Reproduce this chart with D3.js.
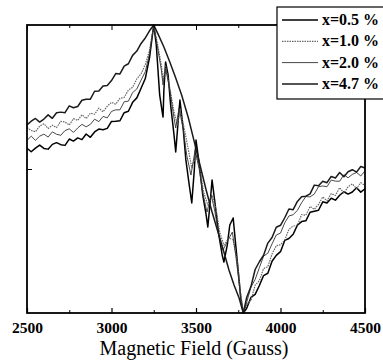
<!DOCTYPE html>
<html><head><meta charset="utf-8">
<script src="https://cdn.jsdelivr.net/npm/d3@7"></script>
<style>body{margin:0;background:#fff}svg{display:block}</style>
</head><body>
<script>
// Magnetic field (Gauss) / EPR signal (arb. units)
const xTicks = [2500, 3000, 3500, 4000, 4500];
const seriesNames = ["x=0.5 %", "x=1.0 %", "x=2.0 %", "x=4.7 %"];

const s05 = [[2500,14.4],[2525,12.0],[2550,14.5],[2575,16.6],[2600,14.3],[2625,13.8],[2650,17.1],[2675,18.3],[2700,16.9],[2725,16.4],[2750,20.8],[2775,19.4],[2800,21.6],[2825,20.4],[2850,24.3],[2875,22.0],[2900,25.7],[2925,27.7],[2950,27.3],[2975,28.2],[3000,33.0],[3025,33.2],[3050,33.5],[3075,39.1],[3100,40.1],[3125,46.3],[3150,49.4],[3175,56.1],[3200,62.8],[3225,77.4],[3250,100],
[3265,86.1],[3275,68.8],[3285,51.4],[3300,39.6],[3305,36.1],[3310,54.9],[3320,74.3],[3335,65.3],[3350,44.4],[3370,23.6],[3380,11.8],[3395,34.0],[3405,47.9],[3425,27.1],[3440,6.3],[3460,-11.1],[3475,-23.6],[3490,-0.7],[3500,20.1],[3520,2.8],[3540,-18.1],[3560,-31.9],[3570,-40.3],[3585,-21.5],[3595,-7.6],[3610,-21.5],[3635,-45.8],[3655,-59.7],[3665,-64.6],[3685,-52.8],[3700,-38.9],[3720,-34.0],[3735,-52.8],[3755,-77.1],[3765,-89.6],[3780,-100],
[3800,-96.7],[3825,-89.2],[3850,-87.1],[3875,-80.9],[3900,-74.0],[3925,-72.4],[3950,-64.1],[3975,-60.0],[4000,-57.4],[4025,-49.6],[4050,-48.3],[4075,-45.35],[4100,-39.0],[4125,-36.5],[4150,-36.0],[4175,-30.05],[4200,-29.3],[4225,-28.65],[4250,-22.8],[4275,-23.6],[4300,-20.3],[4325,-21.65],[4350,-18.2],[4375,-15.8],[4400,-17.4],[4425,-15.95],[4450,-13.0],[4475,-16.05],[4500,-13.7]];

const s10 = [[2500,28.8],[2525,26.75],[2550,25.9],[2575,29.8],[2600,31.4],[2625,28.15],[2650,30.4],[2675,28.8],[2700,33.1],[2725,32.6],[2750,30.5],[2775,35.0],[2800,33.8],[2825,37.65],[2850,35.0],[2875,38.75],[2900,38.0],[2925,42.3],[2950,39.7],[2975,43.6],[3000,46.3],[3025,45.0],[3050,49.1],[3075,49.7],[3100,54.8],[3125,56.75],[3150,62.6],[3175,66.1],[3200,72.6],[3225,82.3],[3250,100],
[3270,88.2],[3295,72.2],[3305,61.8],[3320,71.5],[3345,56.3],[3370,39.6],[3390,30.6],[3405,41.0],[3430,28.5],[3455,13.2],[3475,0.7],[3500,9.7],[3525,-0.7],[3545,-16.0],[3570,-25.0],[3595,-18.1],[3620,-28.5],[3640,-43.8],[3665,-52.8],[3695,-47.9],[3720,-49.3],[3745,-64.6],[3760,-82.6],[3780,-100],
[3800,-94.0],[3825,-91.25],[3850,-80.7],[3875,-77.6],[3900,-69.1],[3925,-67.9],[3950,-59.0],[3975,-53.3],[4000,-52.6],[4025,-49.4],[4050,-41.8],[4075,-39.6],[4100,-39.1],[4125,-31.65],[4150,-32.1],[4175,-26.05],[4200,-28.0],[4225,-24.6],[4250,-19.4],[4275,-22.1],[4300,-17.1],[4325,-18.35],[4350,-13.0],[4375,-16.75],[4400,-12.3],[4425,-10.35],[4450,-13.6],[4475,-9.5],[4500,-11.4]];

const s20 = [[2500,19.9],[2525,22.8],[2550,19.9],[2575,22.8],[2600,24.2],[2625,22.2],[2650,25.8],[2675,24.1],[2700,23.4],[2725,26.7],[2750,27.9],[2775,25.4],[2800,28.5],[2825,31.0],[2850,29.3],[2875,31.0],[2900,34.6],[2925,32.9],[2950,36.5],[2975,35.5],[3000,40.0],[3025,41.1],[3050,41.1],[3075,46.7],[3100,47.1],[3125,53.1],[3150,55.6],[3175,61.7],[3200,67.6],[3225,80.1],[3250,100],
[3270,86.1],[3295,68.8],[3305,58.3],[3320,70.1],[3345,54.9],[3370,35.4],[3380,28.5],[3400,42.4],[3425,27.1],[3445,9.7],[3470,-4.2],[3495,13.2],[3520,-0.7],[3540,-16.7],[3565,-29.9],[3590,-18.1],[3610,-28.5],[3635,-45.8],[3660,-56.3],[3690,-49.3],[3715,-43.8],[3735,-59.7],[3755,-79.2],[3765,-91.0],[3780,-100],
[3800,-92.5],[3825,-82.05],[3850,-76.7],[3875,-68.5],[3900,-60.5],[3925,-58.5],[3950,-52.0],[3975,-45.85],[4000,-44.5],[4025,-37.4],[4050,-32.6],[4075,-31.75],[4100,-28.7],[4125,-23.4],[4150,-19.1],[4175,-19.4],[4200,-17.4],[4225,-12.3],[4250,-11.8],[4275,-12.3],[4300,-7.7],[4325,-8.45],[4350,-8.5],[4375,-4.0],[4400,-6.1],[4425,-3.75],[4450,-2.4],[4475,-4.85],[4500,-1.3]];

const s47 = [[2500,30.6],[2525,33.2],[2550,35.1],[2575,32.6],[2600,34.7],[2625,37.6],[2650,35.2],[2675,39.1],[2700,39.5],[2725,39.1],[2750,43.8],[2775,42.55],[2800,43.4],[2825,47.75],[2850,48.4],[2875,48.5],[2900,54.0],[2925,54.1],[2950,57.7],[2975,58.0],[3000,61.4],[3025,66.25],[3050,66.0],[3075,71.5],[3100,73.1],[3125,78.9],[3150,81.9],[3175,87.2],[3200,91.0],[3225,96.0],[3250,100],
[3275,93.8],[3310,84.7],[3345,74.3],[3380,63.2],[3415,51.4],[3455,35.4],[3490,18.8],[3525,2.1],[3560,-14.6],[3595,-29.9],[3630,-43.8],[3665,-57.6],[3695,-70.1],[3725,-80.6],[3755,-89.6],[3780,-100],
[3800,-89.2],[3825,-81.65],[3850,-69.8],[3875,-64.4],[3900,-59.9],[3925,-51.45],[3950,-47.6],[3975,-40.45],[4000,-39.1],[4025,-33.85],[4050,-27.8],[4075,-28.25],[4100,-22.5],[4125,-19.3],[4150,-18.9],[4175,-17.25],[4200,-11.2],[4225,-11.7],[4250,-8.5],[4275,-9.5],[4300,-5.2],[4325,-6.2],[4350,-2.4],[4375,-5.35],[4400,-1.9],[4425,-0.5],[4450,-2.2],[4475,1.75],[4500,0.7]];

const seriesData = [s05, s10, s20, s47];
const styles = [
  {stroke:"#000", w:1.5, dash:null},
  {stroke:"#666", w:1.2, dash:"1.5,1"},
  {stroke:"#333", w:0.9, dash:null},
  {stroke:"#1a1a1a", w:1.5, dash:null}
];

const W = 383, H = 360;
const L = 27, R = 365, T = 25, B = 313;
const svg = d3.select("body").append("svg").attr("width", W).attr("height", H);
const x = d3.scaleLinear().domain([2500, 4500]).range([L, R]);
const y = d3.scaleLinear().domain([-100, 100]).range([B, T]);
const font = "'Liberation Serif','Times New Roman',serif";

const line = d3.line().x(d => x(d[0])).y(d => y(d[1]));
seriesData.forEach((s, i) => {
  svg.append("path").datum(s).attr("d", line)
    .attr("fill", "none").attr("stroke", styles[i].stroke)
    .attr("stroke-width", styles[i].w)
    .attr("stroke-dasharray", styles[i].dash)
    .attr("stroke-linejoin", "round");
});

// frame
svg.append("rect").attr("x", L).attr("y", T).attr("width", R - L).attr("height", B - T)
  .attr("fill", "none").attr("stroke", "#000").attr("stroke-width", 1.8);

// bottom axis
const xAxis = d3.axisBottom(x).tickValues(xTicks).tickSize(-5).tickPadding(9).tickFormat(d3.format("d"));
const gx = svg.append("g").attr("transform", `translate(0,${B})`).call(xAxis);
gx.select(".domain").remove();
gx.selectAll("line").attr("stroke-width", 1.2);
gx.selectAll("text").attr("font-family", font).attr("font-size", 15.5).attr("font-weight", "bold").attr("fill", "#000");
const minor = d3.range(2750, 4500, 500);
const gxm = svg.append("g").attr("transform", `translate(0,${B})`).call(d3.axisBottom(x).tickValues(minor).tickSize(-3).tickFormat(""));
gxm.select(".domain").remove();
// top axis ticks
const gt = svg.append("g").attr("transform", `translate(0,${T})`).call(d3.axisTop(x).tickValues(xTicks).tickSize(-5).tickFormat(""));
gt.select(".domain").remove();
const gtm = svg.append("g").attr("transform", `translate(0,${T})`).call(d3.axisTop(x).tickValues(minor).tickSize(-3).tickFormat(""));
gtm.select(".domain").remove();
// left tick
const gy = svg.append("g").attr("transform", `translate(${L},0)`).call(d3.axisLeft(y).tickValues([0]).tickSize(-5).tickFormat(""));
gy.select(".domain").remove();

// axis title
svg.append("text").attr("x", 194).attr("y", 355).attr("text-anchor", "middle")
  .attr("font-family", font).attr("font-size", 20).attr("fill", "#000").text("Magnetic Field (Gauss)");

// legend
const lg = svg.append("g");
lg.append("rect").attr("x", 277).attr("y", 7).attr("width", 110).attr("height", 92)
  .attr("fill", "#fff").attr("stroke", "#000").attr("stroke-width", 1.2);
seriesNames.forEach((n, i) => {
  const yy = 20 + i * 21.3;
  lg.append("line").attr("x1", 282).attr("x2", 318).attr("y1", yy).attr("y2", yy)
    .attr("stroke", styles[i].stroke).attr("stroke-width", styles[i].w).attr("stroke-dasharray", styles[i].dash);
  lg.append("text").attr("x", 322).attr("y", yy + 5).attr("font-family", font)
    .attr("font-size", 16).attr("font-weight", "bold").attr("fill", "#000").text(n);
});
</script>
</body></html>
